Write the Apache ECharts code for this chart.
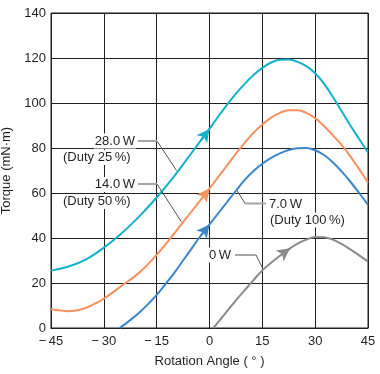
<!DOCTYPE html>
<html>
<head>
<meta charset="utf-8">
<script src="https://cdn.jsdelivr.net/npm/echarts@6/dist/echarts.min.js"></script>
<style>
html,body{margin:0;padding:0;background:#fff;}
#chart{width:380px;height:374px;}
</style>
</head>
<body>
<div id="chart"></div>
<script>
// ---- data ----
const xTicks = [-45, -30, -15, 0, 15, 30, 45];
const xTickLabels = ['\u2212\u200945', '\u2212\u200930', '\u2212\u200915', '0', '15', '30', '45'];
const yTicks = [0, 20, 40, 60, 80, 100, 120, 140];

const cyanAngle  = [-45, -40, -35, -30, -25, -20, -15, -10, -5, 0, 2.5, 5, 7.5, 10, 12.5, 15, 17.5, 20, 22.5, 25, 27.5, 30, 32.5, 35, 37.5, 40, 42.5, 45];
const cyanTorque = [25.5, 27.3, 30.5, 35.7, 42, 49.5, 58, 67.5, 78, 88.5, 94, 99.3, 104.2, 108.5, 112.4, 115.6, 118, 119.2, 119.3, 118.3, 116.4, 113.2, 108.6, 102.8, 96.4, 90, 84, 78];

const orangeAngle  = [-45, -42.5, -40, -37.5, -35, -32.5, -30, -25, -20, -15, -10, -5, 0, 5, 7.5, 10, 12.5, 15, 17.5, 20, 22.5, 25, 27.5, 30, 32.5, 35, 37.5, 40, 42.5, 45];
const orangeTorque = [8.3, 7.8, 7.5, 7.9, 9, 10.8, 13, 18.7, 24.5, 32.5, 42, 52, 62, 72.3, 77.5, 82.3, 86.7, 90.4, 93.5, 95.6, 96.8, 96.8, 95.6, 93.3, 89.8, 85.7, 81.4, 76.3, 70.6, 64.6];

const blueAngle  = [-25.5, -22.5, -20, -17.5, -15, -12.5, -10, -7.5, -5, -2.5, 0, 2.5, 5, 7.5, 10, 12.5, 15, 17.5, 20, 22.5, 25, 27.5, 30, 32.5, 35, 37.5, 40, 42.5, 45];
const blueTorque = [0, 3.5, 6.8, 10.5, 14.7, 19.5, 24.5, 30, 35.5, 41, 46, 51, 56, 61, 65.8, 69.8, 73, 75.6, 77.6, 79.1, 79.9, 80, 79, 76.9, 73.7, 69.6, 65, 60, 54.7];

const grayAngle  = [1.1, 2.5, 5, 7.5, 10, 12.5, 15, 17.5, 20, 22.5, 25, 27.5, 30, 32.5, 35, 37.5, 40, 42.5, 45];
const grayTorque = [0, 2.7, 7.5, 12.3, 16.8, 21.3, 25.6, 29, 32.1, 35, 37.5, 39.3, 40.4, 40.3, 39.3, 37.4, 34.9, 32.3, 29.5];

// arrow tips (angle on each curve)
const arrowTips = { cyan: 0, orange: 0, blue: 0, gray: 22.9 };

// ---- helpers ----
function pairs(xs, ys) { return xs.map((x, i) => [x, ys[i]]); }
function interp(xs, ys, x) {
  for (let i = 0; i < xs.length - 1; i++) {
    if (x >= xs[i] && x <= xs[i + 1]) {
      const t = (x - xs[i]) / (xs[i + 1] - xs[i]);
      return ys[i] + t * (ys[i + 1] - ys[i]);
    }
  }
  return ys[ys.length - 1];
}
function arrowLine(xs, ys, tip, color) {
  const back = tip - 2.5;
  return {
    silent: true,
    symbol: ['none', 'arrow'],
    symbolSize: [10, 13],
    label: { show: false },
    lineStyle: { color: color, width: 2, type: 'solid' },
    emphasis: { disabled: true },
    animation: false,
    data: [[{ coord: [back, interp(xs, ys, back)] }, { coord: [tip, interp(xs, ys, tip)] }]]
  };
}

const FONT = '"Liberation Sans", Arial, "Noto Sans CJK JP", sans-serif';
const TXT = '#231f20';
const GRID = '#231f20';

const colors = { cyan: '#14b2c8', orange: '#f7915f', blue: '#3a86c8', gray: '#8a8a8a' };

function lineSeries(name, xs, ys, color, tip) {
  return {
    name: name, type: 'line', smooth: 0.35,
    showSymbol: false, symbol: 'none',
    data: pairs(xs, ys),
    lineStyle: { color: color, width: 2 },
    itemStyle: { color: color },
    z: 3,
    markLine: arrowLine(xs, ys, tip, color),
    animation: false
  };
}

const chart = echarts.init(document.getElementById('chart'), null, { renderer: 'canvas' });

function textEl(str, x, y, align) {
  return {
    type: 'text', z: 10,
    style: {
      text: str, x: x, y: y, align: align || 'left', verticalAlign: 'middle',
      font: '13px ' + FONT, fill: TXT,
      backgroundColor: '#fff', padding: [1, 1, 1, 1]
    }
  };
}
function seg(points, color, width) {
  return {
    type: 'polyline', z: 9,
    shape: { points: points },
    style: { stroke: color, lineWidth: width, fill: null }
  };
}
const LG = '#a6a6a6', LD = '#555';

chart.setOption({
  backgroundColor: '#fff',
  animation: false,
  grid: { left: 51, right: 12, top: 13, bottom: 46, show: true, borderColor: GRID, borderWidth: 1,
          backgroundColor: 'transparent', containLabel: false, outerBoundsMode: 'none' },
  xAxis: {
    type: 'value', min: -45, max: 45, interval: 15,
    name: 'Rotation Angle ( \u00b0 )', nameLocation: 'middle', nameGap: 27,
    nameTextStyle: { fontFamily: FONT, fontSize: 13, color: TXT },
    axisLine: { show: true, lineStyle: { color: GRID, width: 1 } },
    axisTick: { show: false },
    splitLine: { show: true, lineStyle: { color: GRID, width: 1 } },
    axisLabel: {
      fontFamily: FONT, fontSize: 13, color: TXT, margin: 7,
      formatter: v => { const i = xTicks.indexOf(v); return i >= 0 ? xTickLabels[i] : ''; }
    }
  },
  yAxis: {
    type: 'value', min: 0, max: 140, interval: 20,
    name: 'Torque (mN\u00b7m)', nameLocation: 'middle', nameGap: 35,
    nameTextStyle: { fontFamily: FONT, fontSize: 13, color: TXT },
    axisLine: { show: true, lineStyle: { color: GRID, width: 1 } },
    axisTick: { show: false },
    splitLine: { show: true, lineStyle: { color: GRID, width: 1 } },
    axisLabel: {
      fontFamily: FONT, fontSize: 13, color: TXT, margin: 5,
      formatter: v => (yTicks.indexOf(v) >= 0 ? String(v) : '')
    }
  },
  series: [
    lineSeries('0W', grayAngle, grayTorque, colors.gray, arrowTips.gray),
    lineSeries('7.0W', blueAngle, blueTorque, colors.blue, arrowTips.blue),
    lineSeries('14.0W', orangeAngle, orangeTorque, colors.orange, arrowTips.orange),
    lineSeries('28.0W', cyanAngle, cyanTorque, colors.cyan, arrowTips.cyan)
  ],
  graphic: [
    seg([[138, 141], [157, 141]], LG, 2),
    seg([[157, 141], [176.5, 170.5]], LD, 1),
    seg([[138, 184], [157, 184]], LG, 2),
    seg([[157, 184], [181.5, 222]], LD, 1),
    seg([[237, 190.5], [245, 203.5]], LD, 1),
    seg([[245, 203.5], [266, 203.5]], LG, 2),
    seg([[235, 255], [256, 255]], LG, 2),
    seg([[256, 255], [263, 269]], LD, 1),
    textEl('28.0\u2009W', 136, 141, 'right'),
    textEl('(Duty 25\u2009%)', 62, 157.5, 'left'),
    textEl('14.0\u2009W', 136, 184.5, 'right'),
    textEl('(Duty 50\u2009%)', 62, 201.5, 'left'),
    textEl('7.0\u2009W', 268, 204, 'left'),
    textEl('(Duty 100\u2009%)', 269, 220, 'left'),
    textEl('0\u2009W', 208, 255, 'left')
  ]
});
</script>
</body>
</html>
